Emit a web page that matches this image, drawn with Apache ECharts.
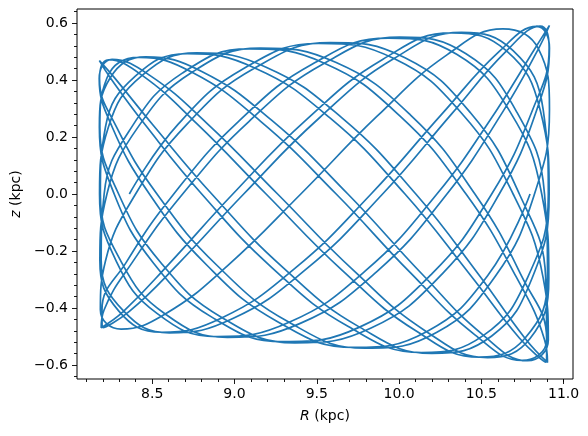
<!DOCTYPE html>
<html>
<head>
<meta charset="utf-8">
<script src="https://cdn.jsdelivr.net/npm/echarts@6/dist/echarts.min.js"></script>
<style>
html,body{margin:0;padding:0;background:#fff;}
#chart{width:588px;height:436px;}
</style>
</head>
<body>
<div id="chart"></div>
<script>
// Orbit trace: galactocentric radius R (kpc)
const radius = [
8.361,8.658,9.056,9.510,9.969,10.379,10.693,10.876,10.907,10.781,10.513,10.135,
9.689,9.227,8.801,8.461,8.245,8.179,8.269,8.506,8.862,9.297,9.760,10.199,
10.563,10.810,10.912,10.858,10.653,10.321,9.900,9.439,8.990,8.604,8.327,8.190,
8.208,8.380,8.685,9.089,9.546,10.003,10.407,10.712,10.884,10.902,10.765,10.488,
10.102,9.653,9.192,8.771,8.439,8.234,8.180,8.282,8.529,8.893,9.332,9.795,
10.230,10.586,10.823,10.914,10.847,10.631,10.291,9.865,9.403,8.957,8.579,8.311,
8.185,8.216,8.399,8.713,9.123,9.582,10.036,10.434,10.731,10.891,10.897,10.748,
10.461,10.070,9.618,9.157,8.742,8.419,8.225,8.182,8.296,8.554,8.925,9.367,
9.830,10.261,10.609,10.836,10.914,10.836,10.609,10.261,9.830,9.367,8.925,8.554,
8.296,8.182,8.225,8.419,8.742,9.157,9.618,10.070,10.461,10.748,10.897,10.891,
10.731,10.434,10.036,9.582,9.123,8.713,8.399,8.216,8.185,8.311,8.579,8.957,
9.403,9.865,10.291,10.631,10.847,10.914,10.823,10.586,10.230,9.795,9.332,8.893,
8.529,8.282,8.180,8.234,8.439,8.771,9.192,9.653,10.102,10.488,10.765,10.902,
10.884,10.712,10.407,10.003,9.546,9.089,8.685,8.380,8.208,8.190,8.327,8.604,
8.990,9.439,9.900,10.321,10.653,10.858,10.912,10.810,10.563,10.199,9.760,9.297,
8.862,8.506,8.269,8.179,8.245,8.461,8.801,9.227,9.689,10.135,10.513,10.781,
10.907,10.876,10.693,10.379,9.969,9.510,9.056,8.658,8.361,8.201,8.195,8.344,
8.631,9.022,9.474,9.935,10.350,10.673,10.867,10.910,10.796,10.538,10.167,9.725,
9.262,8.831,8.483,8.256,8.178,8.256,8.483,8.831,9.262,9.725,10.167,10.538,
10.796
];
// Height above the plane z (kpc), same order
const height = [
0,0.245,0.440,0.528,0.475,0.284,0,-0.295,-0.512,-0.585,-0.496,-0.278,
0,0.258,0.430,0.481,0.408,0.234,0,-0.241,-0.432,-0.518,-0.467,-0.280,
0,0.293,0.512,0.589,0.502,0.282,0,-0.262,-0.437,-0.487,-0.411,-0.234,
0,0.239,0.425,0.509,0.459,0.275,0,-0.291,-0.511,-0.591,-0.506,-0.286,
0,0.267,0.445,0.495,0.416,0.235,0,-0.236,-0.419,-0.500,-0.450,-0.270,
0,0.288,0.508,0.591,0.509,0.289,0,-0.272,-0.453,-0.503,-0.421,-0.237,
0,0.235,0.414,0.492,0.442,0.266,0,-0.285,-0.505,-0.590,-0.511,-0.292,
0,0.277,0.461,0.512,0.427,0.239,0,-0.234,-0.410,-0.485,-0.434,-0.261,
0,0.281,0.500,0.588,0.512,0.294,0,-0.281,-0.470,-0.522,-0.434,-0.242,
0,0.234,0.407,0.479,0.427,0.256,0,-0.277,-0.494,-0.584,-0.511,-0.295,
0,0.285,0.478,0.531,0.442,0.246,0,-0.235,-0.406,-0.474,-0.421,-0.252,
0,0.272,0.488,0.579,0.509,0.296,0,-0.288,-0.485,-0.541,-0.450,-0.250,
0,0.236,0.405,0.471,0.416,0.247,0,-0.267,-0.480,-0.572,-0.506,-0.295,
0,0.291,0.492,0.550,0.459,0.255,0,-0.239,-0.406,-0.469,-0.411,-0.244,
0,0.262,0.472,0.565,0.502,0.294,0,-0.293,-0.498,-0.559,-0.467,-0.259,
0,0.241,0.409,0.468,0.408,0.240,0,-0.258,-0.464,-0.556,-0.496,-0.293,
0,0.295,0.503,0.567,0.475,0.264,0,-0.245,-0.412,-0.469,-0.406,-0.238,
0,0.253,0.456,0.547,0.490,0.290,0,-0.296,-0.507,-0.574,-0.483,-0.269,
0,0.249,0.417,0.472,0.405,0.236,0,-0.249,-0.448,-0.538,-0.483,-0.287,
0
];
const xMajorTicks = [8.5, 9.0, 9.5, 10.0, 10.5, 11.0];
const xMinorTicks = [8.1,8.2,8.3,8.4,8.6,8.7,8.8,8.9,9.1,9.2,9.3,9.4,9.6,9.7,9.8,9.9,10.1,10.2,10.3,10.4,10.6,10.7,10.8,10.9,11.0];
const yMajorTicks = [-0.6, -0.4, -0.2, 0.0, 0.2, 0.4, 0.6];
const yMinorTicks = [-0.64,-0.56,-0.52,-0.48,-0.44,-0.36,-0.32,-0.28,-0.24,-0.16,-0.12,-0.08,-0.04,0.04,0.08,0.12,0.16,0.24,0.28,0.32,0.36,0.44,0.48,0.52,0.56,0.64];
const xLabel = 'R';
const yLabel = 'z';

const FONT = 'DejaVu Sans';
const fmt = v => (v < 0 ? '\u2212' : '') + Math.abs(v).toFixed(1);
const xMin = 8.043, xMax = 11.057, yMin = -0.649, yMax = 0.649;

const chart = echarts.init(document.getElementById('chart'), null, {renderer: 'canvas', width: 588, height: 436});
const tickStyle = {color: '#000', width: 0.9};
const labelStyle = {color: '#000', fontSize: 14, fontFamily: FONT};
const nameStyle = {
  color: '#000', fontSize: 14, fontFamily: FONT,
  rich: {i: {fontStyle: 'italic', fontSize: 14, fontFamily: FONT, color: '#000'}}
};
const noLine = {show: false, onZero: false};

chart.setOption({
  animation: false,
  backgroundColor: '#fff',
  grid: {left: 77, right: 15, top: 9, bottom: 57, show: true, borderColor: '#000', borderWidth: 1, backgroundColor: 'transparent'},
  xAxis: [
    {
      type: 'value', min: xMin, max: xMax, position: 'bottom',
      axisLine: noLine, splitLine: {show: false},
      axisTick: {show: true, inside: false, length: 5, customValues: xMajorTicks, lineStyle: tickStyle},
      axisLabel: Object.assign({customValues: xMajorTicks, formatter: fmt, margin: 8}, labelStyle),
      name: '{i|' + xLabel + '} (kpc)', nameLocation: 'middle', nameGap: 30, nameTextStyle: nameStyle
    },
    {
      type: 'value', min: xMin, max: xMax, position: 'bottom',
      axisLine: noLine, splitLine: {show: false},
      axisTick: {show: true, inside: false, length: 3, customValues: xMinorTicks, lineStyle: tickStyle},
      axisLabel: {show: false}
    }
  ],
  yAxis: [
    {
      type: 'value', min: yMin, max: yMax, position: 'left',
      axisLine: noLine, splitLine: {show: false},
      axisTick: {show: true, inside: false, length: 5, customValues: yMajorTicks, lineStyle: tickStyle},
      axisLabel: Object.assign({customValues: yMajorTicks, formatter: fmt, margin: 9}, labelStyle),
      name: '{i|' + yLabel + '} (kpc)', nameLocation: 'middle', nameGap: 52, nameTextStyle: nameStyle
    },
    {
      type: 'value', min: yMin, max: yMax, position: 'left',
      axisLine: noLine, splitLine: {show: false},
      axisTick: {show: true, inside: false, length: 3, customValues: yMinorTicks, lineStyle: tickStyle},
      axisLabel: {show: false}
    }
  ],
  series: [{
    type: 'line',
    xAxisIndex: 0, yAxisIndex: 0,
    data: radius.map((r, i) => [r, height[i]]),
    showSymbol: false,
    symbol: 'none',
    smooth: 0.45,
    clip: true,
    lineStyle: {color: '#1f77b4', width: 1.7},
    silent: true
  }]
});
</script>
</body>
</html>
